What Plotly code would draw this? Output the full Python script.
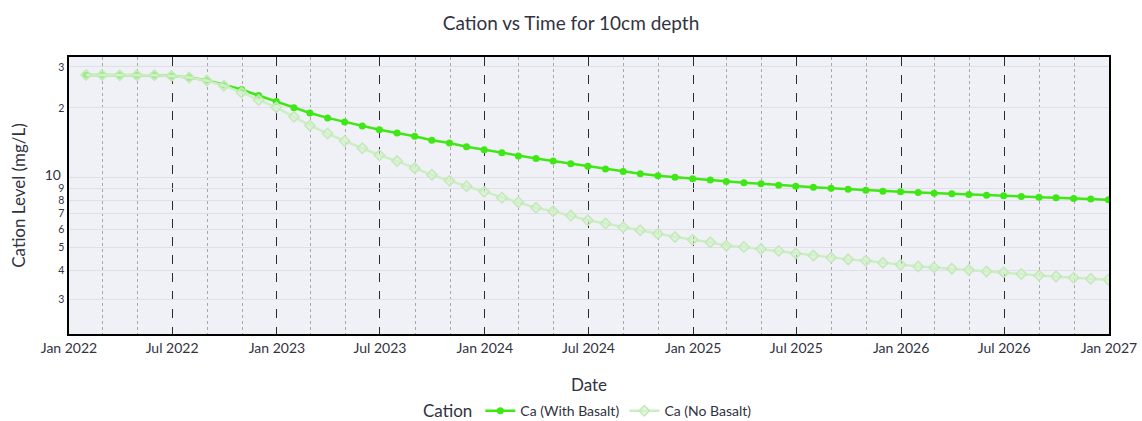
import pandas as pd
import plotly.graph_objects as go

# Monthly (month-end) sample dates
dates = pd.date_range("2022-01-31", periods=60, freq="ME")

ca_with_basalt = [
    27.7, 27.7, 27.6, 27.6, 27.6, 27.4, 27.0, 26.3, 25.1, 24.0,
    22.6, 21.3, 20.0, 19.0, 18.1, 17.4, 16.7, 16.1, 15.6, 15.1,
    14.5, 14.1, 13.6, 13.2, 12.8, 12.4, 12.1, 11.8, 11.5, 11.2,
    10.9, 10.65, 10.4, 10.2, 10.05, 9.9, 9.77, 9.64, 9.52, 9.42,
    9.29, 9.2, 9.1, 9.02, 8.93, 8.84, 8.75, 8.7, 8.64, 8.58,
    8.53, 8.47, 8.41, 8.36, 8.3, 8.25, 8.2, 8.14, 8.09, 8.04,
]

ca_no_basalt = [
    27.7, 27.7, 27.6, 27.6, 27.6, 27.4, 27.0, 26.2, 24.9, 23.3,
    21.6, 20.1, 18.3, 16.8, 15.5, 14.4, 13.4, 12.5, 11.8, 11.0,
    10.3, 9.7, 9.2, 8.7, 8.2, 7.85, 7.42, 7.17, 6.87, 6.56,
    6.35, 6.12, 5.94, 5.74, 5.56, 5.41, 5.27, 5.10, 5.03, 4.93,
    4.84, 4.72, 4.62, 4.53, 4.45, 4.39, 4.30, 4.22, 4.15, 4.11,
    4.06, 4.01, 3.95, 3.91, 3.85, 3.79, 3.76, 3.71, 3.67, 3.64,
]

FONT = "Source Sans Pro, Lato, Noto Sans, sans-serif"

fig = go.Figure()
fig.add_trace(go.Scatter(
    x=dates, y=ca_with_basalt, name="Ca (With Basalt)",
    mode="lines+markers",
    line=dict(color="#3fe714", width=2.5),
    marker=dict(symbol="circle", size=7, color="#3fe714"),
))
fig.add_trace(go.Scatter(
    x=dates, y=ca_no_basalt, name="Ca (No Basalt)",
    mode="lines+markers",
    line=dict(color="#cdeec4", width=2.5),
    marker=dict(symbol="diamond", size=8, color="rgba(215,241,208,0.6)",
                line=dict(color="#c3e9b8", width=1.5)),
))

fig.update_layout(
    width=1142, height=421,
    margin=dict(l=69, r=33, t=57, b=87, autoexpand=False),
    paper_bgcolor="white",
    plot_bgcolor="#f0f1f6",
    font=dict(family=FONT, color="#31333f", size=14),
    title=dict(text="Cation vs Time for 10cm depth", x=0.5, xanchor="center",
               y=0.945, yanchor="middle", font=dict(size=19, color="#31333f")),
    legend=dict(orientation="h", x=0.5, xanchor="center",
                yref="container", y=0.022, yanchor="middle",
                title=dict(text="Cation", font=dict(size=17)),
                font=dict(size=14)),
)

fig.update_xaxes(
    range=["2022-01-01", "2027-01-01"],
    dtick="M6", tick0="2022-01-01", tickformat="%b %Y",
    tickfont=dict(size=14),
    showgrid=True, gridcolor="#2b2b2b", griddash="dash", gridwidth=1.3,
    minor=dict(dtick="M2", tick0="2022-01-01", showgrid=True,
               gridcolor="#a8a8a8", griddash="dot", gridwidth=1),
    showline=True, linecolor="black", linewidth=1.5, mirror=True,
    ticks="", zeroline=False, automargin=True,
    title=dict(text="Date", font=dict(size=17), standoff=30),
)

fig.update_yaxes(
    type="log", range=[0.327, 1.52], dtick="D1",
    tickfont=dict(size=14),
    showgrid=True, gridcolor="#dfe0e6", gridwidth=1,
    showline=True, linecolor="black", linewidth=1.5, mirror=True,
    ticks="", zeroline=False, automargin=False,
    title=dict(text="Cation Level (mg/L)", font=dict(size=17)),
)

fig.write_html("out.html")
